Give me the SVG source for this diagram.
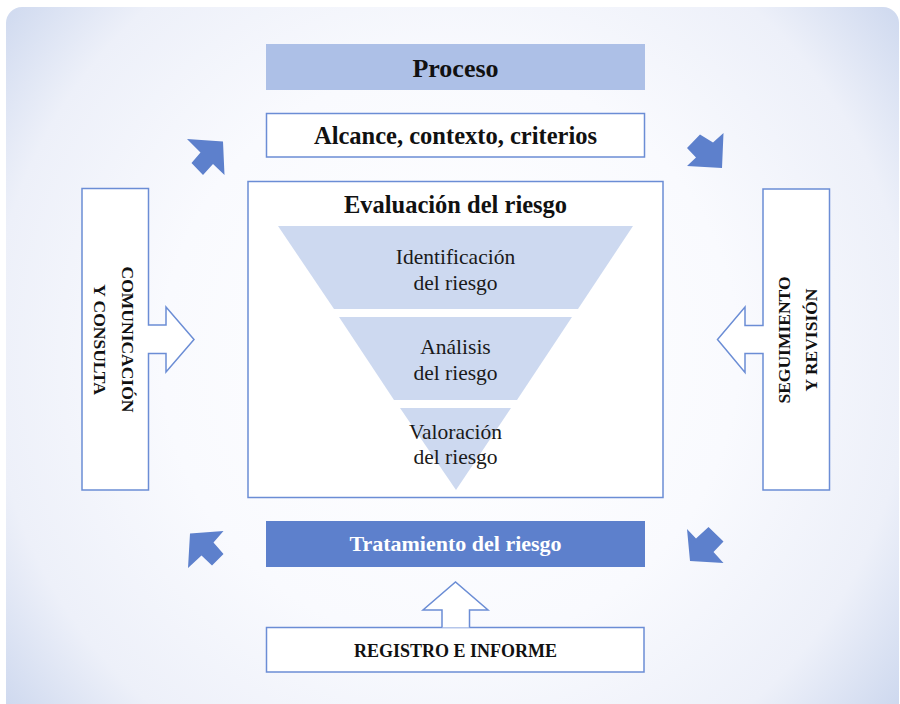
<svg xmlns="http://www.w3.org/2000/svg" width="900" height="704" viewBox="0 0 900 704">
  <defs>
    <radialGradient id="bg" gradientUnits="userSpaceOnUse" cx="450" cy="355" r="575">
      <stop offset="0" stop-color="#ffffff"/>
      <stop offset="0.5" stop-color="#f9fafe"/>
      <stop offset="0.8" stop-color="#edf0f9"/>
      <stop offset="1" stop-color="#ccd7ee"/>
    </radialGradient>
    <style>
      .box { fill: #ffffff; stroke: #6b8dd5; stroke-width: 1.5; }
      .funnel { fill: #cdd9f0; }
      .blk { fill: #5d80cc; }
      .hollow { fill: #ffffff; stroke: #6b8dd5; stroke-width: 1.5; stroke-linejoin: miter; }
      .b { font-family: "Liberation Serif", "DejaVu Serif", serif; font-weight: bold; fill: #111111; text-anchor: middle; }
      .w { fill: #ffffff; }
      .r { font-family: "Liberation Serif", "DejaVu Serif", serif; font-size: 21.5px; fill: #1a1a1a; text-anchor: middle; }
    </style>
  </defs>

  <rect x="0" y="0" width="900" height="704" fill="#ffffff"/>
  <rect x="6" y="7" width="893" height="720" rx="16" fill="url(#bg)"/>

  <g id="node-proceso">
    <rect x="266" y="44" width="379" height="46" fill="#adc0e7"/>
    <text class="b" x="455.5" y="77" font-size="26">Proceso</text>
  </g>

  <g id="node-alcance">
    <rect class="box" x="266.5" y="113.5" width="378" height="43.5"/>
    <text class="b" x="455.5" y="143.5" font-size="24.5">Alcance, contexto, criterios</text>
  </g>

  <g id="node-evaluacion">
    <rect class="box" x="248" y="181.5" width="415" height="316"/>
    <text class="b" x="455.5" y="213" font-size="24.5">Evaluación del riesgo</text>
    <g id="node-identificacion">
      <polygon class="funnel" points="278,226 633,226 578,309 334,309"/>
      <text class="r" x="455.5" y="263.5">Identificación</text>
      <text class="r" x="455.5" y="289.5">del riesgo</text>
    </g>
    <g id="node-analisis">
      <polygon class="funnel" points="339,317 572,317 517,400 394,400"/>
      <text class="r" x="455.5" y="354">Análisis</text>
      <text class="r" x="455.5" y="379.5">del riesgo</text>
    </g>
    <g id="node-valoracion">
      <polygon class="funnel" points="400,408 511,408 456,490"/>
      <text class="r" x="455.5" y="438.5">Valoración</text>
      <text class="r" x="455.5" y="463.5">del riesgo</text>
    </g>
  </g>

  <g id="node-comunicacion">
    <path class="hollow" d="M82,188.5 H148.5 V325 H166 V307 L194,339.5 L166,372 V353.5 H148.5 V490 H82 Z"/>
    <text class="b" font-size="17.5" transform="translate(122,339.5) rotate(90)">COMUNICACIÓN</text>
    <text class="b" font-size="17.5" transform="translate(94,339.5) rotate(90)">Y CONSULTA</text>
  </g>

  <g id="node-seguimiento">
    <path class="hollow" d="M829.5,189 H763 V325.5 H745 V307 L717.5,339.5 L745,372.5 V353.5 H763 V490 H829.5 Z"/>
    <text class="b" font-size="17.5" transform="translate(790,340) rotate(-90)">SEGUIMIENTO</text>
    <text class="b" font-size="17.5" transform="translate(817,340) rotate(-90)">Y REVISIÓN</text>
  </g>

  <g id="node-tratamiento">
    <rect x="266" y="521" width="379" height="46" fill="#5d80cc"/>
    <text class="b w" x="455.5" y="551" font-size="22">Tratamiento del riesgo</text>
  </g>

  <g id="node-registro">
    <rect class="box" x="266.5" y="627.5" width="377.5" height="44.5"/>
    <text class="b" x="455.5" y="657" font-size="18">REGISTRO E INFORME</text>
  </g>

  <g id="connectors">
    <path class="hollow" d="M442,627.5 V610 H423 L455.5,582 L488,610 H469.5 V627.5"/>
    <polygon class="blk" points="187,139 223,141.5 224.5,175 213,164 203,175 191.5,163 200.5,152.5"/>
    <polygon class="blk" points="723.5,133 722,168 687,166 696,157.5 687,148 700,134.5 713,142.5"/>
    <polygon class="blk" points="190,533.5 223.5,531 213.5,542.5 223.5,554 212,565.5 201.5,555.5 188,568"/>
    <polygon class="blk" points="687,529 690,561 723.5,563 713.5,552 723.5,541.5 708.5,527 696,538.5"/>
  </g>
</svg>
